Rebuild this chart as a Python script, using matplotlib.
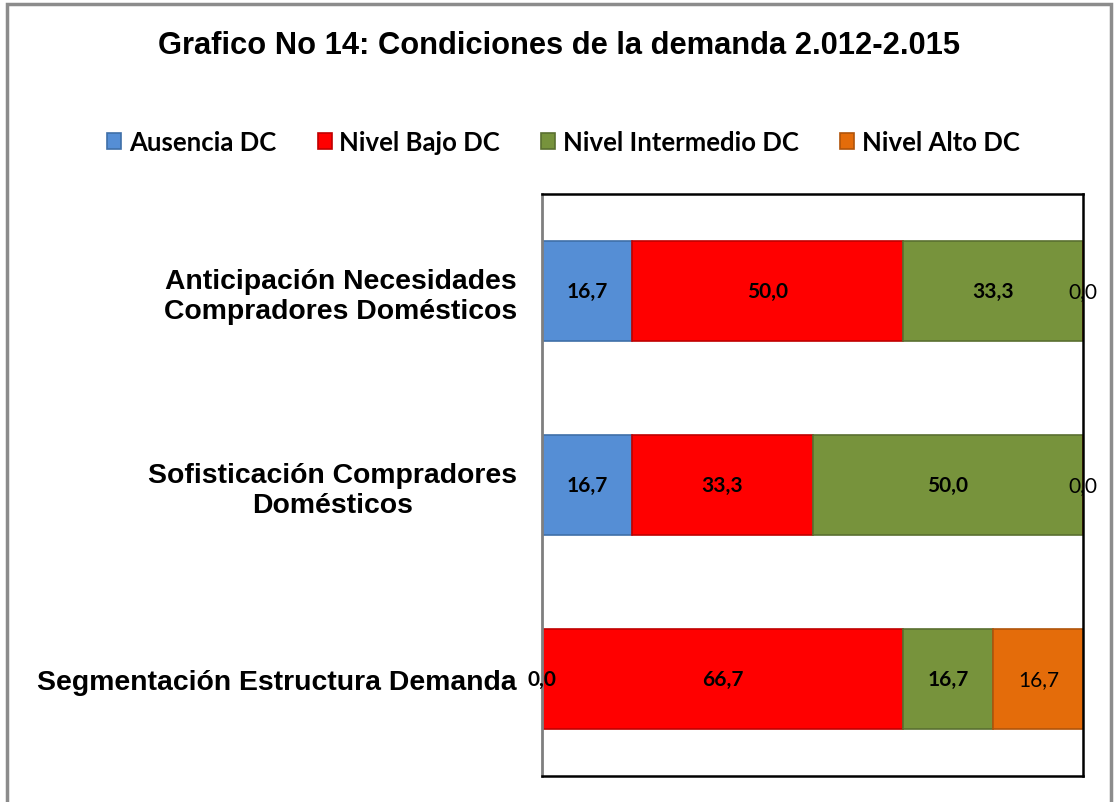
import matplotlib
matplotlib.use("Agg")
import matplotlib.pyplot as plt
from matplotlib.patches import Rectangle
import numpy as np

categories = [
    "Anticipación Necesidades\nCompradores Domésticos",
    "Sofisticación Compradores\nDomésticos",
    "Segmentación Estructura Demanda",
]
series_names = ["Ausencia DC", "Nivel Bajo DC", "Nivel Intermedio DC", "Nivel Alto DC"]
ausencia = [16.7, 16.7, 0.0]
bajo = [50.0, 33.3, 66.7]
intermedio = [33.3, 50.0, 16.7]
alto = [0.0, 0.0, 16.7]

fills = ["#558ED5", "#FF0000", "#77933C", "#E46C0A"]
edges = ["#3F6FA8", "#C00000", "#5A7030", "#B0540A"]
label_bold = [True, True, True, False]

CAL = ["Lato", "DejaVu Sans"]
ARIAL = ["Liberation Sans", "DejaVu Sans"]


def main():
    fig = plt.figure(figsize=(11.16, 8.03), dpi=100)
    ax = fig.add_axes([542 / 1116, 1 - 777 / 803, 541 / 1116, 582 / 803])

    ## outer chart border
    fig.patches.append(Rectangle((7 / 1116, -0.05), 1104 / 1116, 1 - 5 / 803 + 0.05,
                                 transform=fig.transFigure, fill=False,
                                 edgecolor="#8C8C8C", linewidth=2.5))

    data = [ausencia, bajo, intermedio, alto]
    y = np.arange(len(categories))
    left = np.zeros(len(categories))
    for vals, name, fc, ec, bold in zip(data, series_names, fills, edges, label_bold):
        vals = np.array(vals)
        ax.barh(y, vals, left=left, height=0.515, color=fc, edgecolor=ec,
                linewidth=1.2, label=name)
        for yi, (l, v) in enumerate(zip(left, vals)):
            ax.text(l + v / 2, yi, format(v, ".1f").replace(".", ","),
                    ha="center", va="center", fontsize=15, family=CAL,
                    weight="bold" if bold else "normal", color="black",
                    clip_on=False, zorder=5)
        left = left + vals

    ax.set_xlim(0, 100)
    ax.set_ylim(2.5, -0.5)
    ax.set_xticks([])
    ax.set_yticks(y)
    ax.set_yticklabels(categories, fontsize=20.4, family=ARIAL, weight="bold",
                       multialignment="center")
    ax.tick_params(axis="y", length=0, pad=18)
    for s in ["top", "right", "bottom"]:
        ax.spines[s].set_color("black")
        ax.spines[s].set_linewidth(1.8)
    ax.spines["left"].set_color("#7F7F7F")
    ax.spines["left"].set_linewidth(2)

    fig.legend(loc="center", bbox_to_anchor=(0.505, 1 - 143 / 803), ncol=4,
               frameon=False, prop={"family": CAL, "weight": "bold", "size": 18.5},
               handlelength=0.55, handleheight=0.55, handletextpad=0.3,
               columnspacing=1.6)

    fig.text(0.501, 1 - 46 / 803, "Grafico No 14: Condiciones de la demanda 2.012-2.015",
             ha="center", va="center", fontsize=22.2, family=ARIAL, weight="bold")

    fig.savefig("out.png", dpi=100)
    return 0


if __name__ == "__main__":
    main()
